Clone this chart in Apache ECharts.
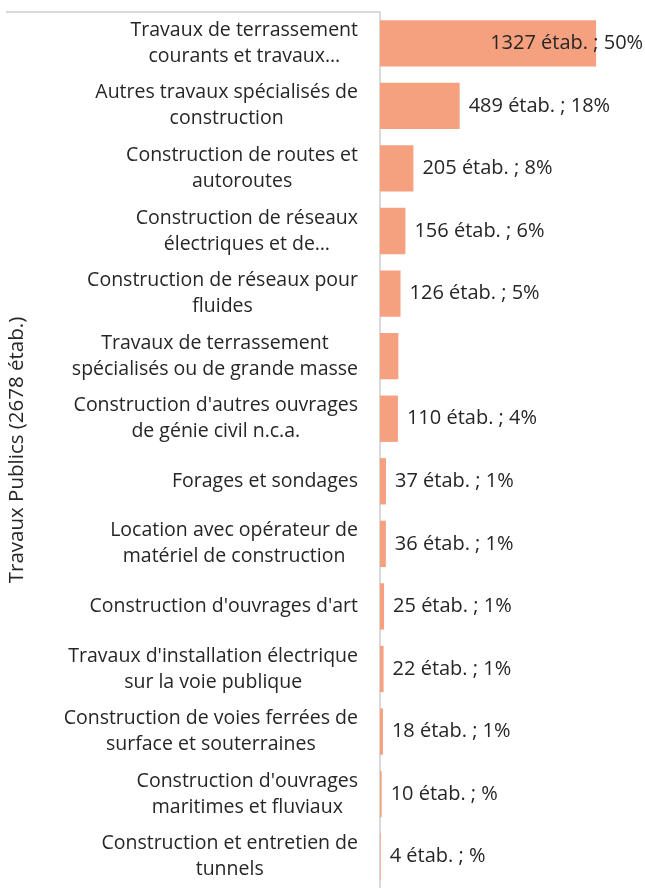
<!DOCTYPE html>
<html>
<head>
<meta charset="utf-8">
<script src="https://cdn.jsdelivr.net/npm/echarts@6/dist/echarts.min.js"></script>
<style>
  html, body { margin: 0; padding: 0; background: #fff; }
  #chart { width: 645px; height: 888px; }
</style>
</head>
<body>
<div id="chart"></div>
<script>
// categories as shown (Excel wraps / truncates them)
const categories = [
  'Travaux de terrassement\ncourants et travaux…',
  'Autres travaux spécialisés de\nconstruction',
  'Construction de routes et\nautoroutes',
  'Construction de réseaux\nélectriques et de…',
  'Construction de réseaux pour\nfluides',
  'Travaux de terrassement\nspécialisés ou de grande masse',
  "Construction d'autres ouvrages\nde génie civil n.c.a.",
  'Forages et sondages',
  'Location avec opérateur de\nmatériel de construction',
  "Construction d'ouvrages d'art",
  "Travaux d'installation électrique\nsur la voie publique",
  'Construction de voies ferrées de\nsurface et souterraines',
  "Construction d'ouvrages\nmaritimes et fluviaux",
  'Construction et entretien de\ntunnels'
]
const etabs = [1327, 489, 205, 156, 126, 113, 110, 37, 36, 25, 22, 18, 10, 4]
// percent text per bar, null = no label
const pcts = ['50', '18', '8', '6', '5', null, '4', '1', '1', '1', '1', '1', '', '']
const axisTitle = 'Travaux Publics (2678 étab.)'

const font = '"Open Sans", "Noto Sans", sans-serif'
const textColor = '#262626'

const chart = echarts.init(document.getElementById('chart'))

const seriesData = etabs.map((v, i) => {
  const item = { value: v }
  if (pcts[i] === null) {
    item.label = { show: false }
  } else if (i === 0) {
    // biggest bar: label sits at the inner end and spills past it
    item.label = { position: 'insideRight', offset: [56, 0] }
  }
  return item
})

chart.setOption({
  animation: false,
  backgroundColor: '#fff',
  grid: {
    left: 380,
    top: 12,
    width: 228,
    height: 884
  },
  xAxis: {
    type: 'value',
    min: 0,
    max: 1400,
    show: false
  },
  yAxis: {
    type: 'category',
    inverse: true,
    data: categories,
    name: axisTitle,
    nameLocation: 'middle',
    nameRotate: 90,
    nameGap: 352,
    nameTextStyle: { fontFamily: font, fontSize: 20.5, color: textColor },
    axisLine: { show: true, lineStyle: { color: '#d9d9d9', width: 2 } },
    axisTick: { show: false },
    axisLabel: {
      margin: 22,
      align: 'right',
      lineHeight: 26,
      formatter: v => v.split('\n').map(s => '{c|' + s + '}').join('\n'),
      rich: {
        c: { align: 'center', fontFamily: font, fontSize: 19.5, color: textColor, lineHeight: 26 }
      }
    }
  },
  graphic: [{
    type: 'line',
    shape: { x1: 6, y1: 12, x2: 380, y2: 12 },
    style: { stroke: '#d9d9d9', lineWidth: 2 },
    silent: true
  }],
  series: [{
    type: 'bar',
    data: seriesData,
    barCategoryGap: '26%',
    itemStyle: { color: '#F5A07F' },
    label: {
      show: true,
      position: 'right',
      distance: 9,
      fontFamily: font,
      fontSize: 20,
      color: textColor,
      formatter: p => p.value + ' étab. ; ' + pcts[p.dataIndex] + '%'
    }
  }]
})
</script>
</body>
</html>
